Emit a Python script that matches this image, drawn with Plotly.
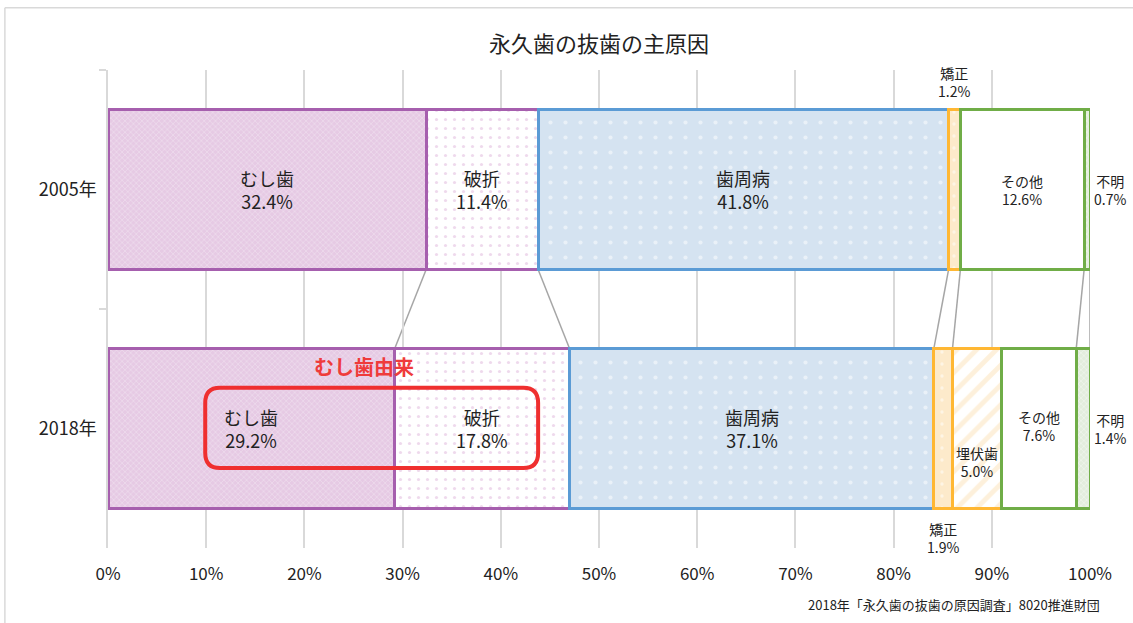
import plotly.graph_objects as go

# ---------------- data ----------------
years = ["2005年", "2018年"]
causes = ["むし歯", "破折", "歯周病", "矯正", "埋伏歯", "その他", "不明"]
values_2005 = [32.4, 11.4, 41.8, 1.2, None, 12.6, 0.7]
values_2018 = [29.2, 17.8, 37.1, 1.9, 5.0, 7.6, 1.4]
x_ticks = [0, 10, 20, 30, 40, 50, 60, 70, 80, 90, 100]
title_text = "永久歯の抜歯の主原因"
source_text = "2018年「永久歯の抜歯の原因調査」8020推進財団"
highlight_text = "むし歯由来"

# ---------------- styles ----------------
FONT = "Noto Sans CJK JP"
styles = {
    "むし歯": dict(line="#A65FAE", bg="#E6CAE4", fg="#F6EDF5", shape="x", size=4, sol=0.35),
    "破折": dict(line="#A65FAE", bg="#FFFFFF", fg="#DDB3DA", shape=".", size=9, sol=0.1),
    "歯周病": dict(line="#5B9BD5", bg="#D5E3F1", fg="#FFFFFF", shape=".", size=15, sol=0.06),
    "矯正": dict(line="#FFB733", bg="#FDEACB", fg="#FFFFFF", shape=".", size=12, sol=0.06),
    "埋伏歯": dict(line="#FFB733", bg="#FFFFFF", fg="#FCE2B8", shape="/", size=14, sol=0.35),
    "その他": dict(line="#70AD47", bg="#FFFFFF", fg="#FFFFFF", shape="", size=8, sol=0.1),
    "不明": dict(line="#70AD47", bg="#E3EDDD", fg="#FFFFFF", shape="x", size=4, sol=0.3),
}
BARGAP = 0.33
HALF = (1 - BARGAP) / 2

fig = go.Figure()
for i, c in enumerate(causes):
    s = styles[c]
    fig.add_trace(go.Bar(
        y=years, x=[values_2005[i], values_2018[i]], orientation="h", name=c,
        marker=dict(color=s["bg"], line=dict(color=s["line"], width=3),
                    pattern=dict(shape=s["shape"], fgcolor=s["fg"], size=s["size"],
                                 solidity=s["sol"], fillmode="overlay")),
        hoverinfo="skip", showlegend=False,
    ))

# ---------------- labels ----------------
small = {"矯正", "埋伏歯", "その他", "不明"}
special = {
    (0, "矯正"): dict(yshift=108),
    (0, "不明"): dict(anchor_end=True),
    (1, "矯正"): dict(yshift=-109),
    (1, "不明"): dict(anchor_end=True),
    (1, "埋伏歯"): dict(yshift=-33),
    (1, "その他"): dict(yshift=3),
}
annotations = []
for yi, vals in enumerate([values_2005, values_2018]):
    cum = 0.0
    for c, v in zip(causes, vals):
        if v is None:
            continue
        center = cum + v / 2
        cum += v
        sp = special.get((yi, c), {})
        fs = 14 if c in small else 18
        if sp.get("anchor_end"):
            xa, xpos, xs = "left", 100, 2
        else:
            xa, xpos, xs = "center", center, 0
        annotations.append(dict(
            x=xpos, y=yi, xref="x", yref="y", xanchor=xa, yanchor="middle",
            xshift=xs, yshift=sp.get("yshift", 0),
            text=f"{c}<br>{v:.1f}%", showarrow=False, align="center",
            font=dict(family=FONT, size=fs, color="#222222"),
        ))

annotations.append(dict(
    x=0.5, y=1.0, xref="paper", yref="paper", yanchor="bottom", yshift=10,
    text=title_text, showarrow=False, font=dict(family=FONT, size=22, color="#222222")))
annotations.append(dict(
    x=1.0, y=0, xref="paper", yref="paper", xanchor="right", yanchor="middle",
    xshift=12, yshift=-56, text=source_text, showarrow=False,
    font=dict(family=FONT, size=13, color="#222222")))
annotations.append(dict(
    x=values_2018[0], y=1, xref="x", yref="y", xanchor="center", yanchor="middle",
    xshift=-31, yshift=62, text=f"<b>{highlight_text}</b>", showarrow=False,
    font=dict(family=FONT, size=20, color="#EF3B3B")))

# ---------------- shapes ----------------
shapes = []

def bounds(vals):
    out, cum = {}, 0.0
    for c, v in zip(causes, vals):
        if v is not None:
            cum += v
        out[c] = cum
    return out

b05 = bounds(values_2005)
b18 = bounds(values_2018)
for c in ["むし歯", "破折", "歯周病", "矯正", "その他"]:
    shapes.append(dict(type="line", xref="x", yref="y",
                       x0=b05[c], y0=0 + HALF, x1=b18[c], y1=1 - HALF,
                       line=dict(color="#A6A6A6", width=1.5), layer="below"))
shapes.append(dict(type="line", xref="x", yref="y", x0=100, y0=0 + HALF, x1=100, y1=1 - HALF,
                   line=dict(color="#A6A6A6", width=1.5), layer="below"))

# rounded highlight box (x in %, y in category units)
x0, x1 = 9.9, 43.8
y0, y1 = 1 - 0.17, 1 + 0.165
rx, ry = 1.5, 0.063
path = (f"M {x0+rx},{y0} L {x1-rx},{y0} Q {x1},{y0} {x1},{y0+ry} "
        f"L {x1},{y1-ry} Q {x1},{y1} {x1-rx},{y1} L {x0+rx},{y1} "
        f"Q {x0},{y1} {x0},{y1-ry} L {x0},{y0+ry} Q {x0},{y0} {x0+rx},{y0} Z")
shapes.append(dict(type="path", xref="x", yref="y", path=path,
                   line=dict(color="#EF2F2F", width=4)))

# outer frame (partially visible)
shapes.append(dict(type="line", xref="paper", yref="paper", x0=-0.105, x1=-0.105,
                   y0=1.13, y1=-0.3, line=dict(color="#D9D9D9", width=1.5)))
shapes.append(dict(type="line", xref="paper", yref="paper", x0=-0.105, x1=1.2,
                   y0=1.13, y1=1.13, line=dict(color="#D9D9D9", width=1.5)))

fig.update_layout(
    width=1133, height=623, barmode="stack", bargap=BARGAP,
    margin=dict(l=108, r=43, t=70, b=75),
    paper_bgcolor="white", plot_bgcolor="white",
    font=dict(family=FONT, color="#222222"),
    annotations=annotations, shapes=shapes,
    xaxis=dict(range=[0, 100], tickvals=x_ticks, ticktext=[f"{t}%" for t in x_ticks],
               showgrid=True, gridcolor="#D9D9D9", gridwidth=1.5, zeroline=False,
               showline=False, ticks="", ticklabelstandoff=14,
               tickfont=dict(family=FONT, size=17, color="#222222"), fixedrange=True),
    yaxis=dict(categoryorder="array", categoryarray=years, autorange="reversed",
               showline=True, linecolor="#D9D9D9", linewidth=1.5,
               ticks="outside", tickson="boundaries", ticklen=7, tickcolor="#D9D9D9",
               tickwidth=1.5, ticklabelstandoff=6,
               tickfont=dict(family=FONT, size=18, color="#222222"), fixedrange=True),
)

fig.write_html("out.html")
